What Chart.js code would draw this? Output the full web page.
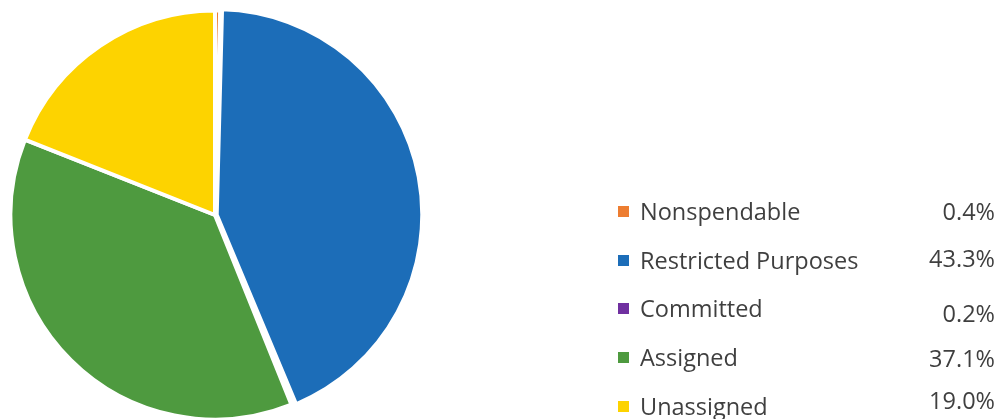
<!DOCTYPE html>
<html>
<head>
<meta charset="utf-8">
<script src="https://cdn.jsdelivr.net/npm/chart.js@4/dist/chart.umd.min.js"></script>
<style>
  html, body { margin: 0; padding: 0; background: #fff; overflow: hidden; }
  body { width: 1003px; height: 419px; position: relative; font-family: "Open Sans", Lato, sans-serif; }
  #pieBox { position: absolute; left: 5px; top: 5px; width: 420px; height: 420px; }
  #legend { position: absolute; left: 0; top: 0; width: 1003px; height: 419px; }
  .row { position: absolute; left: 618px; width: 380px; height: 30px; color: #3f3f3f; font-size: 23.5px; }
  .sw { position: absolute; left: 0; top: 10px; width: 11px; height: 11px; }
  .lbl { position: absolute; left: 22px; top: 0; line-height: 30px; white-space: nowrap; }
  .pct { position: absolute; right: 3px; line-height: 30px; white-space: nowrap; }
</style>
</head>
<body>
<div id="pieBox"><canvas id="pie"></canvas></div>
<div id="legend"></div>
<script>
// Fund balance categories and shares (%)
const categories = ['Nonspendable', 'Restricted Purposes', 'Committed', 'Assigned', 'Unassigned'];
const shares = [0.4, 43.3, 0.2, 37.1, 19.0];
const colors = ['#ED7D31', '#1C6DB8', '#7030A0', '#4E9A3F', '#FDD300'];
const offsets = [0, 7, 0, 0, 0];

// legend rows (label y, percent y) in px
const rowTops = [196, 245, 293, 342, 391];
const pctShift = [0, -2, 5, 1, -6];

new Chart(document.getElementById('pie'), {
  type: 'pie',
  data: {
    labels: categories,
    datasets: [{
      data: shares,
      backgroundColor: colors,
      borderColor: '#ffffff',
      borderWidth: 4,
      offset: offsets
    }]
  },
  options: {
    responsive: true,
    maintainAspectRatio: false,
    animation: false,
    plugins: {
      legend: { display: false },
      tooltip: { enabled: false }
    }
  }
});

// Build the legend with values column
const legend = document.getElementById('legend');
categories.forEach((name, i) => {
  const row = document.createElement('div');
  row.className = 'row';
  row.style.top = rowTops[i] + 'px';
  const sw = document.createElement('div');
  sw.className = 'sw';
  sw.style.background = colors[i];
  const lbl = document.createElement('span');
  lbl.className = 'lbl';
  lbl.textContent = name;
  const pct = document.createElement('span');
  pct.className = 'pct';
  pct.style.top = pctShift[i] + 'px';
  pct.textContent = shares[i].toFixed(1) + '%';
  row.appendChild(sw);
  row.appendChild(lbl);
  row.appendChild(pct);
  legend.appendChild(row);
});
</script>
</body>
</html>
